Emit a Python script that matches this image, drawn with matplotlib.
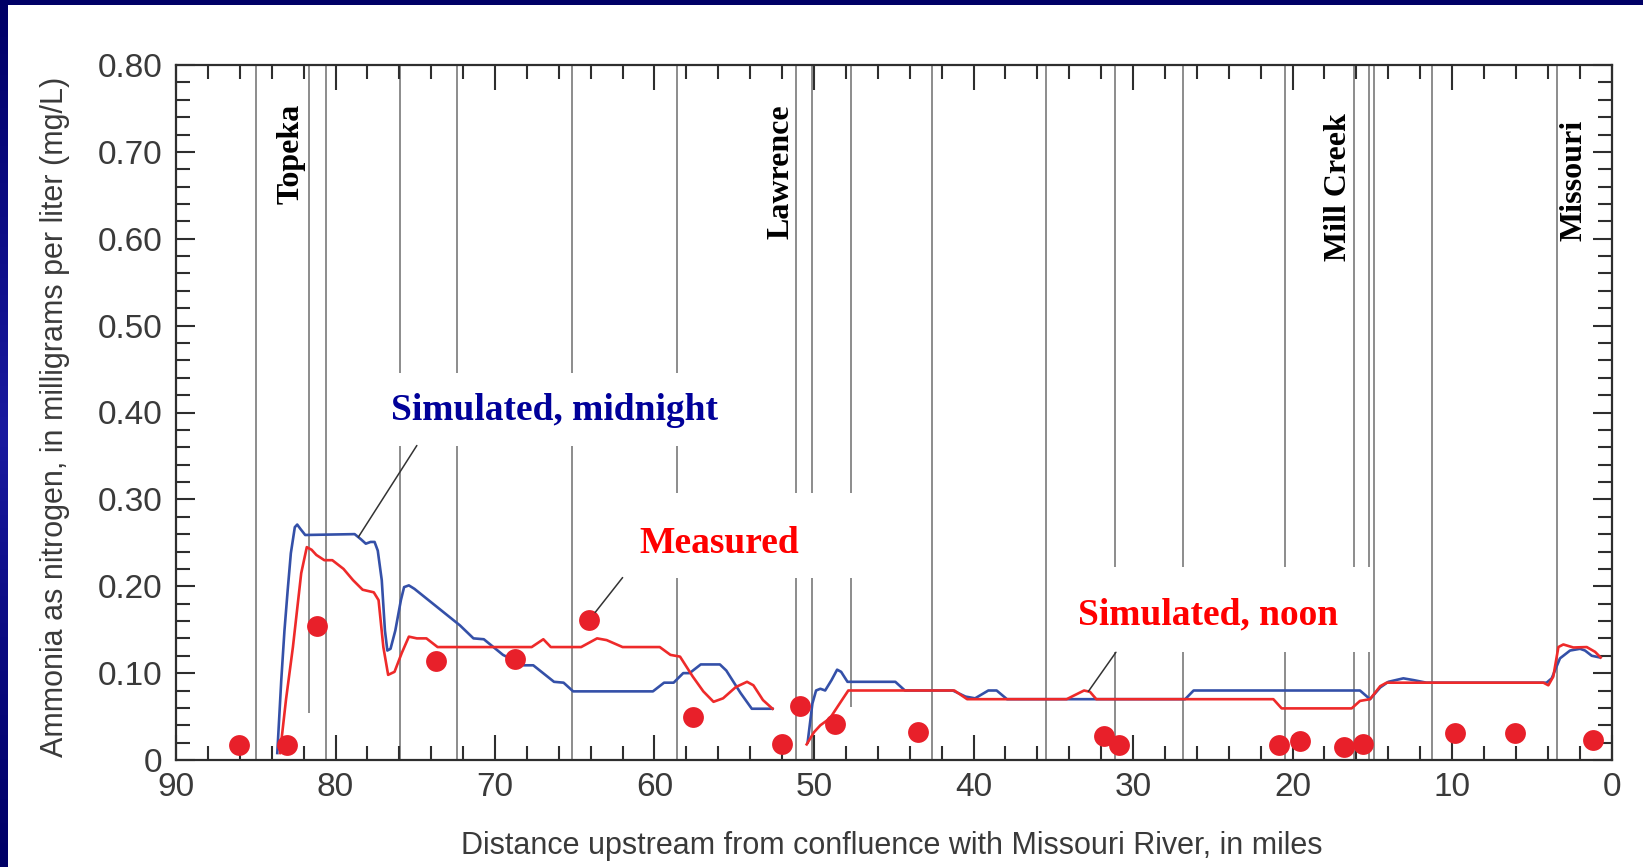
import numpy as np
import matplotlib
matplotlib.use("Agg")
import matplotlib.pyplot as plt
from matplotlib import font_manager
from matplotlib.patches import Rectangle
from matplotlib.colors import LinearSegmentedColormap

# ---------------- data ----------------
# measured ammonia samples (river mile, mg/L)
measured_mi = [86.07, 83.02, 81.18, 73.72, 68.75, 64.1, 57.6, 52.0, 50.85, 48.7,
               43.5, 31.8, 30.9, 20.85, 19.5, 16.75, 15.56, 9.8, 6.05, 1.14]
measured_mg = [0.017, 0.017, 0.154, 0.114, 0.116, 0.161, 0.049, 0.018, 0.062, 0.042,
               0.032, 0.028, 0.017, 0.017, 0.022, 0.015, 0.018, 0.031, 0.031, 0.023]

# simulated, midnight (NaN separates the two model reaches)
midnight_mi = [83.65, 83.4, 83.2, 83.0, 82.8, 82.55, 82.4, 82.2, 81.9, 78.8, 78.4, 78.1,
               77.8, 77.55, 77.35, 77.1, 76.9, 76.75, 76.55, 76.25, 75.9, 75.7, 75.4,
               75.05, 72.2, 71.35, 70.7, 69.5, 68.2, 67.6, 66.3, 65.7, 65.1, 60.1, 59.4,
               58.8, 58.2, 57.8, 57.1, 55.9, 55.5, 54.6, 53.9, 52.6, 51.5,
               50.4, 50.1, 49.87, 49.6, 49.3, 48.9, 48.55, 48.3, 47.9, 44.9, 44.3, 41.3,
               40.5, 39.9, 39.07, 38.55, 37.9, 26.73, 26.2, 15.77, 15.14, 14.5, 13.99,
               13.05, 12.42, 11.6, 4.07, 3.75, 3.23, 2.6, 1.97, 1.66, 1.24, 0.72]
midnight_mg = [0.008, 0.092, 0.149, 0.195, 0.238, 0.268, 0.271, 0.266, 0.259, 0.260, 0.254, 0.249,
               0.251, 0.251, 0.241, 0.207, 0.149, 0.126, 0.128, 0.149, 0.184, 0.199, 0.201,
               0.197, 0.155, 0.140, 0.139, 0.121, 0.109, 0.109, 0.090, 0.089, 0.079, 0.079, 0.089,
               0.089, 0.100, 0.100, 0.110, 0.110, 0.103, 0.077, 0.059, 0.059, np.nan,
               0.020, 0.065, 0.080, 0.082, 0.080, 0.092, 0.104, 0.1015, 0.090, 0.090, 0.080, 0.080,
               0.073, 0.071, 0.080, 0.080, 0.070, 0.070, 0.080, 0.080, 0.070, 0.0835, 0.090,
               0.094, 0.092, 0.089, 0.089, 0.094, 0.117, 0.126, 0.128, 0.126, 0.120, 0.118]

# simulated, noon
noon_mi = [83.48, 83.1, 82.67, 82.15, 81.8, 81.5, 81.2, 80.7, 80.2, 79.5, 78.9, 78.3,
           77.6, 77.3, 77.0, 76.7, 76.3, 75.85, 75.4, 74.9, 74.3, 73.6, 67.7, 66.97,
           66.5, 64.6, 63.6, 63.0, 62.0, 59.67, 59.0, 58.4, 57.6, 56.94, 56.3, 55.7,
           54.9, 54.2, 53.8, 53.2, 52.6, 51.5,
           50.46, 50.0, 49.6, 49.0, 48.5, 47.85, 41.2, 40.4, 34.16, 33.07, 32.7, 32.3,
           21.2, 20.68, 16.29, 15.77, 15.14, 14.5, 14.1, 4.27, 3.96, 3.65, 3.33, 3.02,
           2.39, 1.55, 1.03, 0.68]
noon_mg = [0.008, 0.070, 0.130, 0.215, 0.245, 0.242, 0.236, 0.230, 0.230, 0.220, 0.207, 0.196,
           0.193, 0.184, 0.130, 0.098, 0.1015, 0.123, 0.142, 0.140, 0.140, 0.130, 0.130, 0.139,
           0.130, 0.130, 0.140, 0.138, 0.130, 0.130, 0.121, 0.119, 0.096, 0.079, 0.067, 0.071,
           0.084, 0.090, 0.086, 0.069, 0.059, np.nan,
           0.018, 0.032, 0.040, 0.048, 0.062, 0.080, 0.080, 0.070, 0.070, 0.080, 0.0785, 0.070,
           0.070, 0.0594, 0.0594, 0.068, 0.070, 0.085, 0.089, 0.089, 0.086, 0.096, 0.130, 0.133,
           0.1295, 0.130, 0.1245, 0.118]

# model reach boundaries (river mile)
reach_mi = [85.0, 81.65, 80.6, 75.95, 72.4, 65.15, 58.6, 51.1, 50.15, 47.65, 42.6,
            35.45, 31.15, 26.87, 20.45, 16.12, 15.18, 14.9, 11.27, 3.4]

landmarks = ["Topeka", "Lawrence", "Mill Creek", "Missouri"]
landmark_mi = [82.76, 52.04, 17.12, 2.35]

x_ticks = [90, 80, 70, 60, 50, 40, 30, 20, 10, 0]
x_tick_labels = ["90", "80", "70", "60", "50", "40", "30", "20", "10", "0"]
y_ticks = [0, 0.1, 0.2, 0.3, 0.4, 0.5, 0.6, 0.7, 0.8]
y_tick_labels = ["0", "0.10", "0.20", "0.30", "0.40", "0.50", "0.60", "0.70", "0.80"]

# ---------------- style ----------------
available = {f.name for f in font_manager.fontManager.ttflist}
narrow = "Liberation Sans Narrow" in available
sans = "Liberation Sans Narrow" if narrow else ("Liberation Sans" if "Liberation Sans" in available
                                                 else "DejaVu Sans")
tick_size = 25.5 if narrow else 24
label_size = 25.5 if narrow else 22
serif = "Liberation Serif"

NAVY = "#000066"
BLUE = "#3450A8"
RED = "#EE2A2A"
GRID = "#8C8C8C"
INK = "#2E2E2E"
TEXT_GREY = "#3A3A3A"

W, H = 1643, 867
fig = plt.figure(figsize=(W / 100, H / 100), dpi=100, facecolor="white")

# slide frame: navy band on top, gradient band on the left
fig.patches.append(Rectangle((0, 1 - 5 / H), 1, 5 / H, transform=fig.transFigure,
                             facecolor=NAVY, edgecolor="none", zorder=0))
band = fig.add_axes([0, 0, 8 / W, 1])
band.axis("off")
cmap = LinearSegmentedColormap.from_list("band", [NAVY, "#0C0C84", "#1A1AA0", "#0A0A80", NAVY])
band.imshow(np.linspace(0, 1, 256)[:, None], aspect="auto", cmap=cmap, extent=[0, 1, 0, 1])

ax = fig.add_axes([176 / W, 1 - 760 / H, (1611.5 - 176) / W, (760 - 65) / H])
ax.set_xlim(90, 0)
ax.set_ylim(0, 0.8)

# reach boundary lines
for m in reach_mi:
    ax.axvline(m, color=GRID, lw=1.4, zorder=1)

# white backing boxes for the callouts (mile_left, mile_right, low, high)
boxes = [(77.65, 54.0, 0.362, 0.446),
         (62.48, 43.98, 0.210, 0.307),
         (33.95, 15.02, 0.124, 0.222),
         (82.3, 81.2, 0.0, 0.054),
         (48.05, 47.3, 0.0, 0.061)]
for x0, x1, y0, y1 in boxes:
    ax.add_patch(Rectangle((x1, y0), x0 - x1, y1 - y0, facecolor="white",
                           edgecolor="none", zorder=1.5))

ax.plot(midnight_mi, midnight_mg, color=BLUE, lw=1.9, zorder=3, solid_joinstyle="round")
ax.plot(noon_mi, noon_mg, color=RED, lw=1.9, zorder=3.5, solid_joinstyle="round")
ax.plot(measured_mi, measured_mg, ls="none", marker="o", ms=15, color="#E8202A",
        mec="none", zorder=4)

# callouts
def curve_at(mi, xs, ys):
    xs = np.asarray(xs, float)
    ys = np.asarray(ys, float)
    ok = ~np.isnan(ys)
    return float(np.interp(mi, xs[ok][::-1], ys[ok][::-1]))

lead = dict(arrowstyle="-", color="#333333", lw=1.1, shrinkA=0)
ax.annotate("", xy=(78.57, curve_at(78.57, midnight_mi, midnight_mg)), xytext=(74.9, 0.362),
            arrowprops=dict(lead, shrinkB=0), zorder=5)
ax.annotate("", xy=(measured_mi[5], measured_mg[5]), xytext=(62.0, 0.210),
            arrowprops=dict(lead, shrinkB=7), zorder=5)
ax.annotate("", xy=(32.8, curve_at(32.8, noon_mi, noon_mg)), xytext=(31.07, 0.124),
            arrowprops=dict(lead, shrinkB=0), zorder=5)

label_kw = dict(family=serif, weight="bold", size=27, ha="center", va="center", zorder=6)
ax.text(66.24, 0.402, "Simulated, midnight", color="#000099", **label_kw)
ax.text(55.96, 0.249, "Measured", color="#FF0000", **label_kw)
ax.text(25.3, 0.1667, "Simulated, noon", color="#FF0000", **label_kw)

for name, m, yc in zip(landmarks, landmark_mi, [0.698, 0.677, 0.659, 0.667]):
    ax.text(m, yc, name, rotation=90, family=serif, weight="bold", size=23,
            ha="center", va="center", color="black", zorder=6)

# axes, ticks
ax.set_xticks(x_ticks)
ax.set_xticklabels(x_tick_labels)
ax.set_xticks(np.arange(0, 91, 2), minor=True)
ax.set_yticks(y_ticks)
ax.set_yticklabels(y_tick_labels)
ax.set_yticks(np.arange(0, 0.801, 0.02), minor=True)
ax.tick_params(which="both", direction="in", top=True, right=True, width=1.5,
               color=INK, labelcolor=TEXT_GREY, labelsize=tick_size)
ax.tick_params(axis="x", which="major", length=18, pad=9)
ax.tick_params(axis="x", which="minor", length=10)
ax.tick_params(axis="y", which="major", length=14, pad=10)
ax.tick_params(axis="y", which="minor", length=10)
for lab in ax.get_xticklabels() + ax.get_yticklabels():
    lab.set_family(sans)
for sp in ax.spines.values():
    sp.set_color(INK)
    sp.set_linewidth(1.6)

fig.text(892 / W, 1 - 846 / H,
         "Distance upstream from confluence with Missouri River, in miles",
         ha="center", va="center", family=sans, size=label_size, color=TEXT_GREY)
fig.text(55.5 / W, 1 - 417 / H,
         "Ammonia as nitrogen, in milligrams per liter (mg/L)",
         ha="center", va="center", rotation=90, family=sans, size=label_size, color=TEXT_GREY)

fig.savefig("out.png", dpi=100, facecolor="white")
